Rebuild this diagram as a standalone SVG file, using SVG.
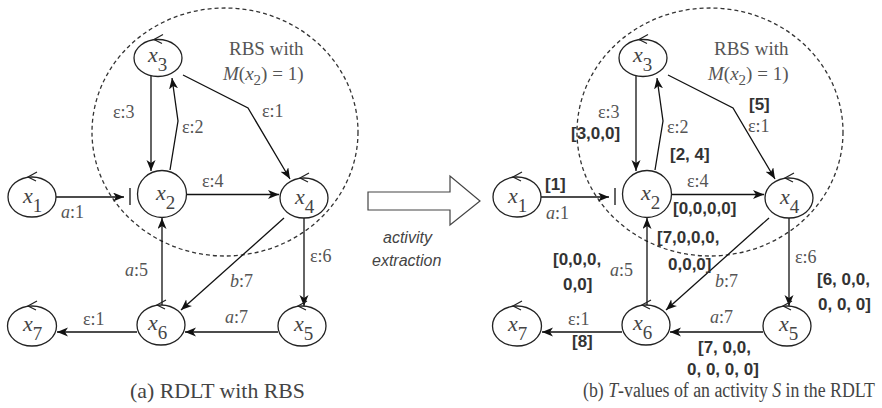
<svg xmlns="http://www.w3.org/2000/svg" width="882" height="408" viewBox="0 0 882 408">
  <style>
    .node { fill: #fff; stroke: #222; stroke-width: 1.3; }
    .loop { fill: none; stroke: #222; stroke-width: 1.2; }
    .edge { fill: none; stroke: #111; stroke-width: 1.3; }
    .rbs { fill: none; stroke: #333; stroke-width: 1.3; stroke-dasharray: 4 3; }
    .nl { font-family: "Liberation Serif", serif; fill: #444; }
    .nl .v { font-size: 22px; font-style: italic; }
    .nl .s { font-size: 19px; }
    .el { font-family: "Liberation Serif", serif; font-size: 18px; fill: #555; }
    .it { font-style: italic; }
    .tv { font-family: "Liberation Sans", Arial, sans-serif; font-size: 17px; font-weight: bold; fill: #333; }
    .cap { font-family: "Liberation Serif", serif; font-size: 20px; fill: #444; }
    .note { font-family: "Liberation Serif", serif; font-size: 19px; fill: #555; }
    .op { font-family: "Liberation Sans", Arial, sans-serif; font-size: 16px; font-style: italic; fill: #444; }
  </style>
  <defs>
    <marker id="arr" markerUnits="userSpaceOnUse" markerWidth="12" markerHeight="10" refX="11" refY="4.5" orient="auto">
      <path d="M0,0 L11,4.5 L0,9 L3,4.5 z" fill="#111"/>
    </marker>
  </defs>
  <rect width="882" height="408" fill="#fff"/>

  <!-- (a) RDLT with RBS -->
  <g id="panel-a">
    <ellipse class="rbs" cx="225" cy="132" rx="133" ry="124"/>
    <text class="note" x="229" y="55">RBS with</text>
    <text class="note" x="223" y="80"><tspan class="it">M</tspan>(<tspan class="it">x</tspan><tspan font-size="15" dy="5">2</tspan><tspan dy="-5">) = 1)</tspan></text>

    <g id="a-edges">
      <path class="edge" d="M56,197 H124" marker-end="url(#arr)"/>
      <path class="edge" d="M130,188 V205"/>
      <path class="edge" d="M151,76 V171" marker-end="url(#arr)"/>
      <path class="edge" d="M170,170 L178,121 L172,78" marker-end="url(#arr)"/>
      <path class="edge" d="M183,75 L248,108 L290,179" marker-end="url(#arr)"/>
      <path class="edge" d="M187,194.5 H279" marker-end="url(#arr)"/>
      <path class="edge" d="M284,218 L181,310" marker-end="url(#arr)"/>
      <path class="edge" d="M304,218 V306" marker-end="url(#arr)"/>
      <path class="edge" d="M162,305 V218" marker-end="url(#arr)"/>
      <path class="edge" d="M278,332 H185" marker-end="url(#arr)"/>
      <path class="edge" d="M137,332 H57" marker-end="url(#arr)"/>
      <text class="el" x="61" y="218"><tspan class="it">a</tspan>:1</text>
      <text class="el" x="113" y="118">ε:3</text>
      <text class="el" x="182" y="133">ε:2</text>
      <text class="el" x="262" y="117">ε:1</text>
      <text class="el" x="202" y="187">ε:4</text>
      <text class="el" x="230" y="287"><tspan class="it">b</tspan>:7</text>
      <text class="el" x="310" y="262">ε:6</text>
      <text class="el" x="125" y="276"><tspan class="it">a</tspan>:5</text>
      <text class="el" x="225" y="323"><tspan class="it">a</tspan>:7</text>
      <text class="el" x="83" y="325">ε:1</text>
    </g>

    <g id="a-x1">
      <ellipse class="node" cx="32" cy="197" rx="24" ry="20"/>
      <polyline class="loop" points="37,172 28,177 36,181"/>
      <text class="nl" x="23" y="203"><tspan class="v">x</tspan><tspan class="s" dy="9">1</tspan></text>
    </g>
    <g id="a-x2">
      <ellipse class="node" cx="162" cy="194" rx="24.5" ry="23.5"/>
      <text class="nl" x="156" y="200"><tspan class="v">x</tspan><tspan class="s" dy="9">2</tspan></text>
    </g>
    <g id="a-x3">
      <ellipse class="node" cx="158" cy="58" rx="24" ry="18.5"/>
      <polyline class="loop" points="163,34.5 154,39.5 162,43.5"/>
      <text class="nl" x="148" y="62"><tspan class="v">x</tspan><tspan class="s" dy="9">3</tspan></text>
    </g>
    <g id="a-x4">
      <ellipse class="node" cx="304" cy="198" rx="24" ry="20"/>
      <polyline class="loop" points="309,173 300,178 308,182"/>
      <text class="nl" x="295" y="204"><tspan class="v">x</tspan><tspan class="s" dy="9">4</tspan></text>
    </g>
    <g id="a-x5">
      <ellipse class="node" cx="302" cy="326" rx="24" ry="20"/>
      <polyline class="loop" points="307,301 298,306 306,310"/>
      <text class="nl" x="294" y="331"><tspan class="v">x</tspan><tspan class="s" dy="9">5</tspan></text>
    </g>
    <g id="a-x6">
      <ellipse class="node" cx="161" cy="325" rx="24" ry="20"/>
      <polyline class="loop" points="166,300 157,305 165,309"/>
      <text class="nl" x="148" y="330"><tspan class="v">x</tspan><tspan class="s" dy="9">6</tspan></text>
    </g>
    <g id="a-x7">
      <ellipse class="node" cx="32" cy="326" rx="24.5" ry="20"/>
      <polyline class="loop" points="37,301 28,306 36,310"/>
      <text class="nl" x="23" y="331"><tspan class="v">x</tspan><tspan class="s" dy="9">7</tspan></text>
    </g>

    <text class="cap" transform="translate(130,398) scale(1.09,1)">(a) RDLT with RBS</text>
  </g>

  <!-- transformation arrow -->
  <g id="extraction">
    <polygon points="368,192 450,192 450,176 480,201 450,225 450,210 368,210" fill="#fff" stroke="#444" stroke-width="1.2"/>
    <text class="op" x="383" y="243">activity</text>
    <text class="op" x="372" y="266">extraction</text>
  </g>

  <!-- (b) T-values of an activity -->
  <g id="panel-b">
    <ellipse class="rbs" cx="710" cy="132" rx="133" ry="124"/>
    <text class="note" x="714" y="55">RBS with</text>
    <text class="note" x="708" y="80"><tspan class="it">M</tspan>(<tspan class="it">x</tspan><tspan font-size="15" dy="5">2</tspan><tspan dy="-5">) = 1)</tspan></text>

    <g id="b-edges">
      <path class="edge" d="M541,197 H609" marker-end="url(#arr)"/>
      <path class="edge" d="M615,188 V205"/>
      <path class="edge" d="M636,76 V171" marker-end="url(#arr)"/>
      <path class="edge" d="M655,170 L663,121 L657,78" marker-end="url(#arr)"/>
      <path class="edge" d="M668,75 L733,108 L775,179" marker-end="url(#arr)"/>
      <path class="edge" d="M672,194.5 H764" marker-end="url(#arr)"/>
      <path class="edge" d="M769,218 L666,310" marker-end="url(#arr)"/>
      <path class="edge" d="M789,218 V306" marker-end="url(#arr)"/>
      <path class="edge" d="M647,305 V218" marker-end="url(#arr)"/>
      <path class="edge" d="M763,332 H670" marker-end="url(#arr)"/>
      <path class="edge" d="M622,332 H542" marker-end="url(#arr)"/>
      <text class="el" x="546" y="219"><tspan class="it">a</tspan>:1</text>
      <text class="el" x="598" y="118">ε:3</text>
      <text class="el" x="667" y="133">ε:2</text>
      <text class="el" x="748" y="132">ε:1</text>
      <text class="el" x="687" y="187">ε:4</text>
      <text class="el" x="715" y="287"><tspan class="it">b</tspan>:7</text>
      <text class="el" x="795" y="263">ε:6</text>
      <text class="el" x="610" y="276"><tspan class="it">a</tspan>:5</text>
      <text class="el" x="710" y="323"><tspan class="it">a</tspan>:7</text>
      <text class="el" x="568" y="325">ε:1</text>

      <text class="tv" x="545" y="190">[1]</text>
      <text class="tv" x="571" y="139">[3,0,0]</text>
      <text class="tv" x="670" y="160">[2, 4]</text>
      <text class="tv" x="749" y="110">[5]</text>
      <text class="tv" x="673" y="214">[0,0,0,0]</text>
      <text class="tv" x="657" y="243">[7,0,0,0,</text>
      <text class="tv" x="668" y="270">0,0,0]</text>
      <text class="tv" x="553" y="265">[0,0,0,</text>
      <text class="tv" x="563" y="290">0,0]</text>
      <text class="tv" x="817" y="285">[6, 0,0,</text>
      <text class="tv" x="818" y="310">0, 0, 0]</text>
      <text class="tv" x="698" y="353">[7, 0,0,</text>
      <text class="tv" x="687" y="375">0, 0, 0, 0]</text>
      <text class="tv" x="572" y="347">[8]</text>
    </g>

    <g id="b-x1">
      <ellipse class="node" cx="517" cy="197" rx="24" ry="20"/>
      <polyline class="loop" points="522,172 513,177 521,181"/>
      <text class="nl" x="508" y="203"><tspan class="v">x</tspan><tspan class="s" dy="9">1</tspan></text>
    </g>
    <g id="b-x2">
      <ellipse class="node" cx="647" cy="194" rx="24.5" ry="23.5"/>
      <text class="nl" x="641" y="200"><tspan class="v">x</tspan><tspan class="s" dy="9">2</tspan></text>
    </g>
    <g id="b-x3">
      <ellipse class="node" cx="643" cy="58" rx="24" ry="18.5"/>
      <polyline class="loop" points="648,34.5 639,39.5 647,43.5"/>
      <text class="nl" x="633" y="62"><tspan class="v">x</tspan><tspan class="s" dy="9">3</tspan></text>
    </g>
    <g id="b-x4">
      <ellipse class="node" cx="789" cy="198" rx="24" ry="20"/>
      <polyline class="loop" points="794,173 785,178 793,182"/>
      <text class="nl" x="780" y="204"><tspan class="v">x</tspan><tspan class="s" dy="9">4</tspan></text>
    </g>
    <g id="b-x5">
      <ellipse class="node" cx="787" cy="326" rx="24" ry="20"/>
      <polyline class="loop" points="792,301 783,306 791,310"/>
      <text class="nl" x="779" y="331"><tspan class="v">x</tspan><tspan class="s" dy="9">5</tspan></text>
    </g>
    <g id="b-x6">
      <ellipse class="node" cx="646" cy="325" rx="24" ry="20"/>
      <polyline class="loop" points="651,300 642,305 650,309"/>
      <text class="nl" x="633" y="330"><tspan class="v">x</tspan><tspan class="s" dy="9">6</tspan></text>
    </g>
    <g id="b-x7">
      <ellipse class="node" cx="517" cy="326" rx="24.5" ry="20"/>
      <polyline class="loop" points="522,301 513,306 521,310"/>
      <text class="nl" x="508" y="331"><tspan class="v">x</tspan><tspan class="s" dy="9">7</tspan></text>
    </g>

    <text class="cap" transform="translate(583,397) scale(0.89,1)">(b) <tspan class="it">T</tspan>-values of an activity <tspan class="it">S</tspan> in the RDLT</text>
  </g>
</svg>
